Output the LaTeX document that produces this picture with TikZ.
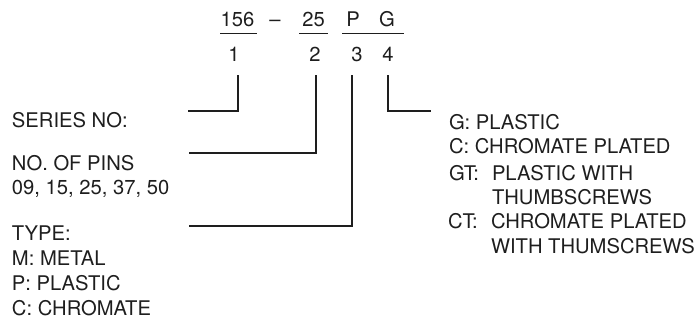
\documentclass[tikz,border=0pt]{standalone}
\usepackage{fontspec}
\setmainfont{TeX Gyre Heros}
\definecolor{ink}{HTML}{1E1E1E}
\begin{document}
\begin{tikzpicture}[x=1pt,y=-1pt,
  txt/.style={anchor=base west,inner sep=0pt,outer sep=0pt,text=ink,font=\fontsize{20.2}{24}\selectfont},
  ctxt/.style={anchor=base,inner sep=0pt,outer sep=0pt,text=ink,font=\fontsize{20.2}{24}\selectfont},
  lead/.style={draw=ink,line width=1.7pt,line cap=butt,line join=miter},
  uline/.style={draw=ink,line width=0.9pt}]
\useasboundingbox (0,0) rectangle (697,322);
% top code
\node[ctxt] (n156) at (237.5,26.5) {156};
\node[ctxt] (n1) at (234,61) {1};
\node[ctxt] (dash) at (275,26.5) {–};
\node[ctxt] (n25) at (313.5,26.5) {25};
\node[ctxt] (n2) at (315,61) {2};
\node[ctxt] (nP) at (353,26.5) {P};
\node[ctxt] (nG) at (387,26.5) {G};
\node[ctxt] (n3) at (357,61) {3};
\node[ctxt] (n4) at (388,61) {4};
\coordinate (u1a) at (220,33); \coordinate (u1b) at (257,33);
\coordinate (u2a) at (299,33); \coordinate (u2b) at (328,33);
\coordinate (u3a) at (342,33); \coordinate (u3b) at (404,33);
\draw[uline] (u1a) -- (u1b);
\draw[uline] (u2a) -- (u2b);
\draw[uline] (u3a) -- (u3b);
% left texts
\node[txt] (series) at (12,127.3) {SERIES NO:};
\node[txt] (pins1) at (12,170.7) {NO. OF PINS};
\node[txt] (pins2) at (12,194.5) {09, 15, 25, 37, 50};
\node[txt] (type1) at (12,240) {TYPE:};
\node[txt] (type2) at (12,265) {M: METAL};
\node[txt] (type3) at (12,290) {P: PLASTIC};
\node[txt] (type4) at (12,315) {C: CHROMATE};
% right texts
\node[txt] (fin1) at (449,129.3) {G: PLASTIC};
\node[txt] (fin2) at (449,153.3) {C: CHROMATE PLATED};
\node[txt] (fin3k) at (449,180.7) {GT:};
\node[txt] (fin3) at (492,180.7) {PLASTIC WITH};
\node[txt] (fin4) at (492,204) {THUMBSCREWS};
\node[txt] (fin5k) at (448,228.5) {CT:};
\node[txt] (fin5) at (491,228.5) {CHROMATE PLATED};
\node[txt] (fin6) at (491,253) {WITH THUMSCREWS};
% leader lines
\coordinate (t1) at (238,75); \coordinate (e1) at (188,111);
\coordinate (t2) at (316,75); \coordinate (e2) at (189,153);
\coordinate (t3) at (352,75); \coordinate (e3) at (189,226);
\coordinate (t4) at (388,75); \coordinate (e4) at (431,111);
\draw[lead] (t1) |- (e1);
\draw[lead] (t2) |- (e2);
\draw[lead] (t3) |- (e3);
\draw[lead] (t4) |- (e4);
\end{tikzpicture}
\end{document}
